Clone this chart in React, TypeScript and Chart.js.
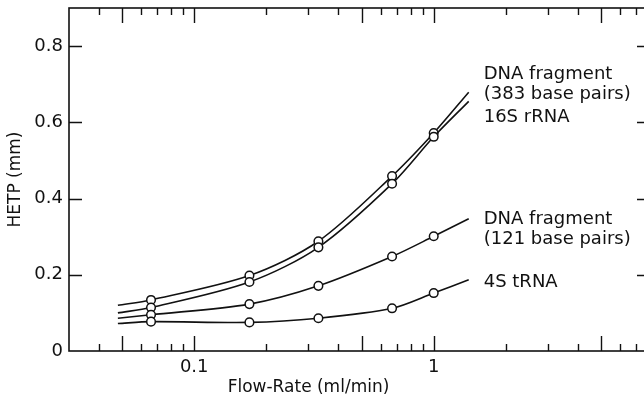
import { useEffect, useRef } from "react";
import { Chart, registerables } from "chart.js";

Chart.register(...registerables);

// Measured flow rates (ml/min)
const flowRates = [0.066, 0.17, 0.33, 0.67, 1.0];
// Extent of the drawn curves (ml/min)
const curveStart = 0.048;
const curveEnd = 1.4;

// HETP (mm) at each flow rate
const dna383 = [0.134, 0.198, 0.288, 0.459, 0.572];
const rrna16s = [0.114, 0.181, 0.272, 0.439, 0.562];
const dna121 = [0.095, 0.123, 0.171, 0.248, 0.301];
const trna4s = [0.077, 0.075, 0.086, 0.112, 0.152];

// HETP of each curve at curveStart / curveEnd
const dna383Ends = [0.12, 0.679];
const rrna16sEnds = [0.1, 0.655];
const dna121Ends = [0.086, 0.347];
const trna4sEnds = [0.072, 0.187];

const xTickLabels = [0.1, 1];
const yTickLabels = [0, 0.2, 0.4, 0.6, 0.8];

const curveLabelTexts = [
  "DNA fragment",
  "(383 base pairs)",
  "16S rRNA",
  "DNA fragment",
  "(121 base pairs)",
  "4S tRNA",
];
const curveLabelLevels = [0.726, 0.674, 0.613, 0.345, 0.292, 0.181];

const FONT = "'DejaVu Sans', sans-serif";
const INK = "#111";

function buildSeries(values: number[], ends: number[]) {
  return [
    { x: curveStart, y: ends[0] },
    ...flowRates.map((f, i) => ({ x: f, y: values[i] })),
    { x: curveEnd, y: ends[1] },
  ];
}

const framePlugin = {
  id: "frameTicks",
  afterDraw(chart: any) {
    const { ctx, chartArea } = chart;
    const { left, right, top, bottom } = chartArea;
    const xs = chart.scales.x;
    const ys = chart.scales.y;
    ctx.save();
    ctx.strokeStyle = INK;
    ctx.lineWidth = 1.6;
    ctx.strokeRect(left, top, right - left, bottom - top);
    ctx.lineWidth = 1.4;
    ctx.beginPath();
    for (const dec of [0.01, 0.1, 1]) {
      for (let m = 1; m <= 9; m++) {
        const v = m * dec;
        if (v <= xs.min + 1e-9 || v >= xs.max - 1e-9) continue;
        const px = Math.round(xs.getPixelForValue(v)) + 0.5;
        const len = m === 1 || m === 5 ? 15 : 7;
        ctx.moveTo(px, bottom);
        ctx.lineTo(px, bottom - len);
        ctx.moveTo(px, top);
        ctx.lineTo(px, top + len);
      }
    }
    for (const v of yTickLabels) {
      if (v === 0) continue;
      const py = Math.round(ys.getPixelForValue(v)) + 0.5;
      ctx.moveTo(left, py);
      ctx.lineTo(left + 13, py);
      ctx.moveTo(right, py);
      ctx.lineTo(right - 13, py);
    }
    ctx.stroke();

    ctx.fillStyle = INK;
    ctx.font = `17px ${FONT}`;
    ctx.textAlign = "center";
    ctx.textBaseline = "middle";
    ctx.fillText("Flow-Rate (ml/min)", xs.getPixelForValue(0.3), 388);

    ctx.font = `18px ${FONT}`;
    ctx.textAlign = "left";
    const lx = xs.getPixelForValue(curveEnd) + 15;
    curveLabelTexts.forEach((t, i) => {
      ctx.fillText(t, lx, ys.getPixelForValue(curveLabelLevels[i]));
    });
    ctx.restore();
  },
};

export default function App() {
  const ref = useRef<HTMLCanvasElement | null>(null);
  useEffect(() => {
    if (!ref.current) return;
    const mk = (data: any[]) => ({
      data,
      borderColor: INK,
      borderWidth: 1.6,
      tension: 0.3,
      pointRadius: data.map((_, i) => (i === 0 || i === data.length - 1 ? 0 : 4.3)),
      pointBackgroundColor: "#fff",
      pointBorderColor: INK,
      pointBorderWidth: 1.5,
    });
    const chart = new Chart(ref.current, {
      type: "line",
      data: {
        datasets: [
          mk(buildSeries(trna4s, trna4sEnds)),
          mk(buildSeries(dna121, dna121Ends)),
          mk(buildSeries(rrna16s, rrna16sEnds)),
          mk(buildSeries(dna383, dna383Ends)),
        ],
      },
      options: {
        animation: false,
        responsive: false,
        devicePixelRatio: 1,
        layout: { padding: { left: 0, right: 10, top: 8, bottom: 0 } },
        plugins: { legend: { display: false }, tooltip: { enabled: false } },
        scales: {
          x: {
            type: "logarithmic",
            min: 0.03,
            max: 8,
            grid: { display: false, drawTicks: false },
            border: { display: false },
            ticks: {
              autoSkip: false,
              maxRotation: 0,
              padding: 6,
              color: INK,
              font: { family: FONT, size: 18 },
              callback: (v: any) => String(v),
            },
            afterBuildTicks: (s: any) => {
              s.ticks = xTickLabels.map((v) => ({ value: v }));
            },
            afterFit: (s: any) => {
              s.height = 47;
              s.paddingLeft = 0;
              s.paddingRight = 0;
            },
          },
          y: {
            type: "linear",
            min: 0,
            max: 0.9,
            grid: { display: false, drawTicks: false },
            border: { display: false },
            ticks: {
              padding: 6,
              color: INK,
              font: { family: FONT, size: 18 },
              callback: (v: any) => (Number(v) === 0 ? "0" : Number(v).toFixed(1)),
            },
            afterBuildTicks: (s: any) => {
              s.ticks = yTickLabels.map((v) => ({ value: v }));
            },
            afterFit: (s: any) => {
              s.width = 69;
              s.paddingTop = 0;
              s.paddingBottom = 0;
            },
            title: {
              display: true,
              text: "HETP (mm)",
              color: INK,
              font: { family: FONT, size: 17 },
              padding: { top: 5, bottom: 0 },
            },
          },
        },
      },
      plugins: [framePlugin],
    });
    return () => chart.destroy();
  }, []);
  return (
    <div
      style={{
        position: "fixed",
        left: 0,
        top: 0,
        width: 644,
        height: 398,
        overflow: "hidden",
        background: "#fff",
      }}
    >
      <canvas ref={ref} width={660} height={398} style={{ display: "block" }} />
    </div>
  );
}
